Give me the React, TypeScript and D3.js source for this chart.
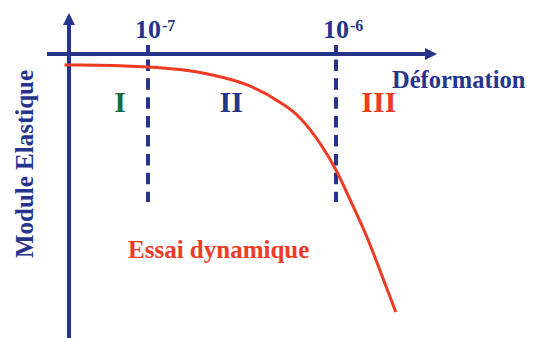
import * as d3 from "d3";
import { useEffect } from "react";

// strain (log axis) vs normalised elastic modulus
const strain = [3.6e-8, 4.4e-8, 1e-7, 1.48e-7, 2.2e-7, 3.37e-7, 4.9e-7, 6.44e-7, 8.2e-7, 1e-6, 1.19e-6, 1.46e-6, 1.71e-6, 2.08e-6];
const modulus = [1.0, 1.0, 0.993, 0.983, 0.963, 0.926, 0.867, 0.804, 0.711, 0.611, 0.5, 0.363, 0.241, 0.085];

const ticks = [1e-7, 1e-6];
const tickExponents = ["-7", "-6"];

const regionLabels = ["I", "II", "III"];
const regionCenters = [7.1e-8, 2.77e-7, 1.69e-6];
const regionColors = ["#1b6a3c", "#27348b", "#ef3b24"];

const width = 537;
const height = 338;
const navy = "#27348b";
const red = "#ef3b24";
const font = "'Liberation Serif', 'Times New Roman', serif";

export default function App() {
  useEffect(() => {
    document.body.style.margin = "0";
  }, []);

  const x = d3.scaleLog().domain([1e-7, 1e-6]).range([148, 336]);
  const y = d3.scaleLinear().domain([0, 1]).range([335, 65]);

  const line = d3
    .line<number>()
    .x((d, i) => x(strain[i]))
    .y((d) => y(d))
    .curve(d3.curveMonotoneX);

  // axis frame
  const axisY = 54;
  const axisLeft = 47;
  const axisRight = 437;
  const yAxisX = 69;
  const yAxisTop = 13;

  return (
    <svg width={width} height={height} style={{ display: "block" }} fontFamily={font} fontWeight="bold">
      {/* dashed boundaries */}
      {ticks.map((t) => (
        <line
          key={"d" + t}
          x1={x(t)}
          x2={x(t)}
          y1={45}
          y2={202}
          stroke={navy}
          strokeWidth={4}
          strokeDasharray="11.5 7.4"
          strokeDashoffset={4.5}
        />
      ))}

      {/* axes */}
      <line x1={axisLeft} x2={axisRight - 10} y1={axisY} y2={axisY} stroke={navy} strokeWidth={4} />
      <path d={`M${axisRight},${axisY} L${axisRight - 12},${axisY - 6} L${axisRight - 12},${axisY + 6} Z`} fill={navy} />
      <line x1={yAxisX} x2={yAxisX} y1={yAxisTop + 10} y2={height} stroke={navy} strokeWidth={4} />
      <path d={`M${yAxisX},${yAxisTop} L${yAxisX - 6},${yAxisTop + 12} L${yAxisX + 6},${yAxisTop + 12} Z`} fill={navy} />

      {/* tick labels */}
      {ticks.map((t, i) => (
        <g key={"t" + t} fill={navy}>
          <text x={x(t)} y={38} fontSize={26} textAnchor="middle">10</text>
          <text x={x(t) + 14} y={31} fontSize={16}>{tickExponents[i]}</text>
        </g>
      ))}

      {/* curve */}
      <path d={line(modulus) || ""} fill="none" stroke={red} strokeWidth={3} />

      {/* region labels */}
      {regionLabels.map((r, i) => (
        <text key={r} x={x(regionCenters[i])} y={112} fontSize={30} textAnchor="middle" fill={regionColors[i]}>
          {r}
        </text>
      ))}

      <text x={392} y={88} fontSize={24.5} fill={navy}>Déformation</text>
      <text transform={`translate(33,164) rotate(-90)`} fontSize={25} textAnchor="middle" fill={navy}>
        Module Elastique
      </text>
      <text x={128} y={258} fontSize={25} fill={red}>Essai dynamique</text>
    </svg>
  );
}
